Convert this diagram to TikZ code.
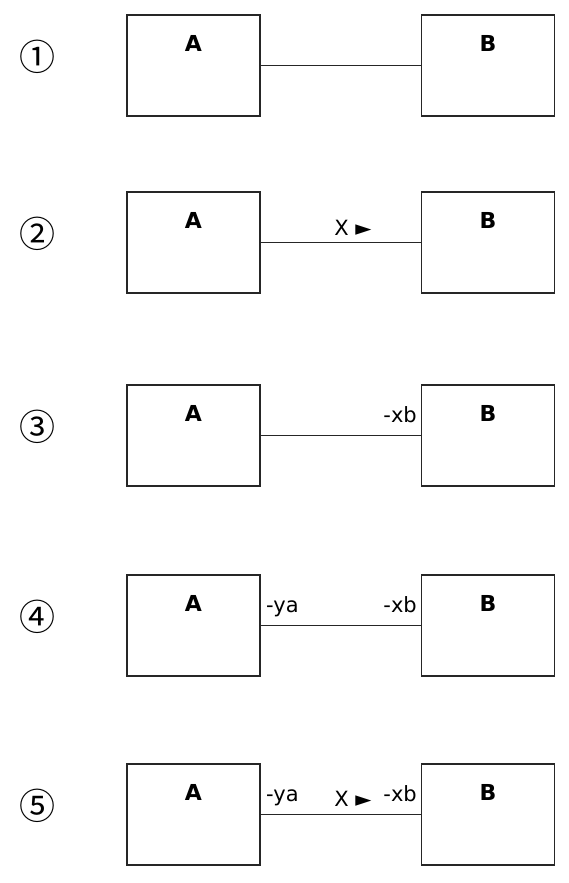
\documentclass[tikz,border=0pt]{standalone}
\usepackage{fontspec}
\setmainfont{DejaVu Sans}
\newfontfamily\circfont{Noto Sans CJK JP}
\begin{document}
\begin{tikzpicture}[x=1pt,y=-1pt,
  box/.style={draw=black!85, line width=1.4pt, minimum width=133pt, minimum height=101pt, inner sep=0pt, outer sep=0pt},
  boxlbl/.style={font=\fontsize{22}{22}\selectfont\bfseries, inner sep=0pt},
  role/.style={font=\fontsize{21}{21}\selectfont, inner sep=0pt},
  num/.style={font=\circfont\fontsize{36}{36}\selectfont, inner sep=0pt},
  conn/.style={draw=black!85, line width=1.4pt}]
\useasboundingbox (0,0) rectangle (569,883);
\foreach \i/\t/\c in {1/15/①,2/192/②,3/385/③,4/575/④,5/764/⑤}{
  \node[box] (a\i) at (193.5,\t+50.5) {};
  \node[box] (b\i) at (488,\t+50.5) {};
  \node[boxlbl] (la\i) at (193.5,\t+28) {A};
  \node[boxlbl] (lb\i) at (488,\t+28) {B};
  \node[num] (n\i) at (37,\t+41.5) {\c};
  \draw[conn] (a\i.east) -- (b\i.west);
}
% row 2
\node[role, anchor=base] (x2) at (353,235.5) {X ►};
% row 3
\node[role, anchor=base east] (xb3) at (417,422.5) {-xb};
% row 4
\node[role, anchor=base west] (ya4) at (266,612.5) {-ya};
\node[role, anchor=base east] (xb4) at (417,612.5) {-xb};
% row 5
\node[role, anchor=base west] (ya5) at (266,801.5) {-ya};
\node[role, anchor=base] (x5) at (353,806.5) {X ►};
\node[role, anchor=base east] (xb5) at (417,801.5) {-xb};
\end{tikzpicture}
\end{document}
